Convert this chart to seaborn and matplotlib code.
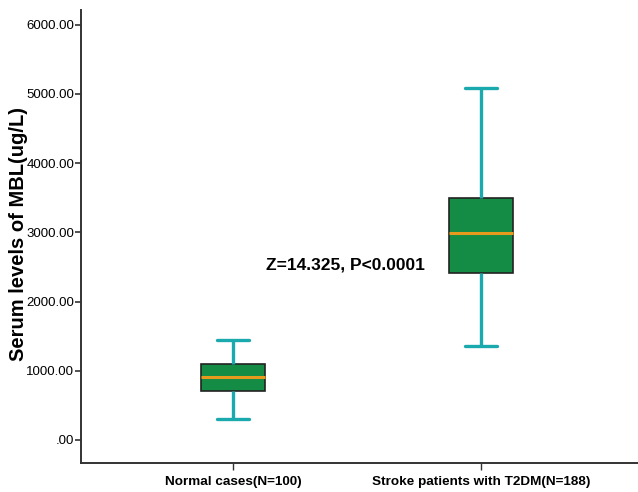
import matplotlib
matplotlib.use("Agg")
import matplotlib.pyplot as plt
import seaborn as sns
import pandas as pd

# Five-number summaries (min, Q1, median, Q3, max) of serum MBL, ug/L
groups = ["Normal cases(N=100)", "Stroke patients with T2DM(N=188)"]
normal_summary = [308, 704, 906, 1094, 1445]
stroke_summary = [1363, 2413, 2987, 3501, 5082]
y_ticks = [0, 1000, 2000, 3000, 4000, 5000, 6000]
y_tick_labels = [".00", "1000.00", "2000.00", "3000.00", "4000.00", "5000.00", "6000.00"]
stat_text = "Z=14.325, P<0.0001"

df = pd.DataFrame({
    "group": [groups[0]] * len(normal_summary) + [groups[1]] * len(stroke_summary),
    "mbl": normal_summary + stroke_summary,
})

sns.set_style("white")
plt.rcParams["font.family"] = ["Liberation Sans", "DejaVu Sans"]
plt.rcParams["text.color"] = "black"
plt.rcParams["xtick.color"] = "#333333"
plt.rcParams["ytick.color"] = "#333333"
plt.rcParams["xtick.labelcolor"] = "black"
plt.rcParams["ytick.labelcolor"] = "black"

fig = plt.figure(figsize=(6.38, 4.92), dpi=100)
ax = fig.add_axes([0.127, 0.059, 0.873, 0.921])

teal = "#1aa9ad"
sns.boxplot(
    data=df, x="group", y="mbl", order=groups, ax=ax,
    whis=(0, 100), width=0.26, color="#148c45", saturation=1,
    linewidth=1.3,
    boxprops=dict(facecolor="#148c45", edgecolor="#222222", linewidth=1.2),
    medianprops=dict(color="#e89a1c", linewidth=2.2),
    whiskerprops=dict(color=teal, linewidth=2.4),
    capprops=dict(color=teal, linewidth=2.4),
    showfliers=False,
)

ax.set_xlim(-0.613, 1.633)
ax.set_ylim(-332, 6214)
ax.set_yticks(y_ticks)
ax.set_yticklabels(y_tick_labels, fontsize=9.5)
ax.set_xticks([0, 1])
ax.set_xticklabels(groups, fontsize=9.7, fontweight="bold")
ax.set_xlabel("")
ax.set_ylabel("Serum levels of MBL(ug/L)", fontsize=14.5, fontweight="bold", color="black")
ax.yaxis.set_label_coords(-0.095, 0.505)

for side in ("top", "right"):
    ax.spines[side].set_visible(False)
for side in ("left", "bottom"):
    ax.spines[side].set_color("#333333")
    ax.spines[side].set_linewidth(1.4)

ax.tick_params(axis="y", direction="out", length=4.5, width=1.2, left=True, pad=0.5)
ax.tick_params(axis="x", direction="out", length=5, width=1.0, bottom=True, pad=4.5)

ax.text(0.452, 2529, stat_text, ha="center", va="center", fontsize=12.5, fontweight="bold")

fig.savefig("out.png", dpi=100)
